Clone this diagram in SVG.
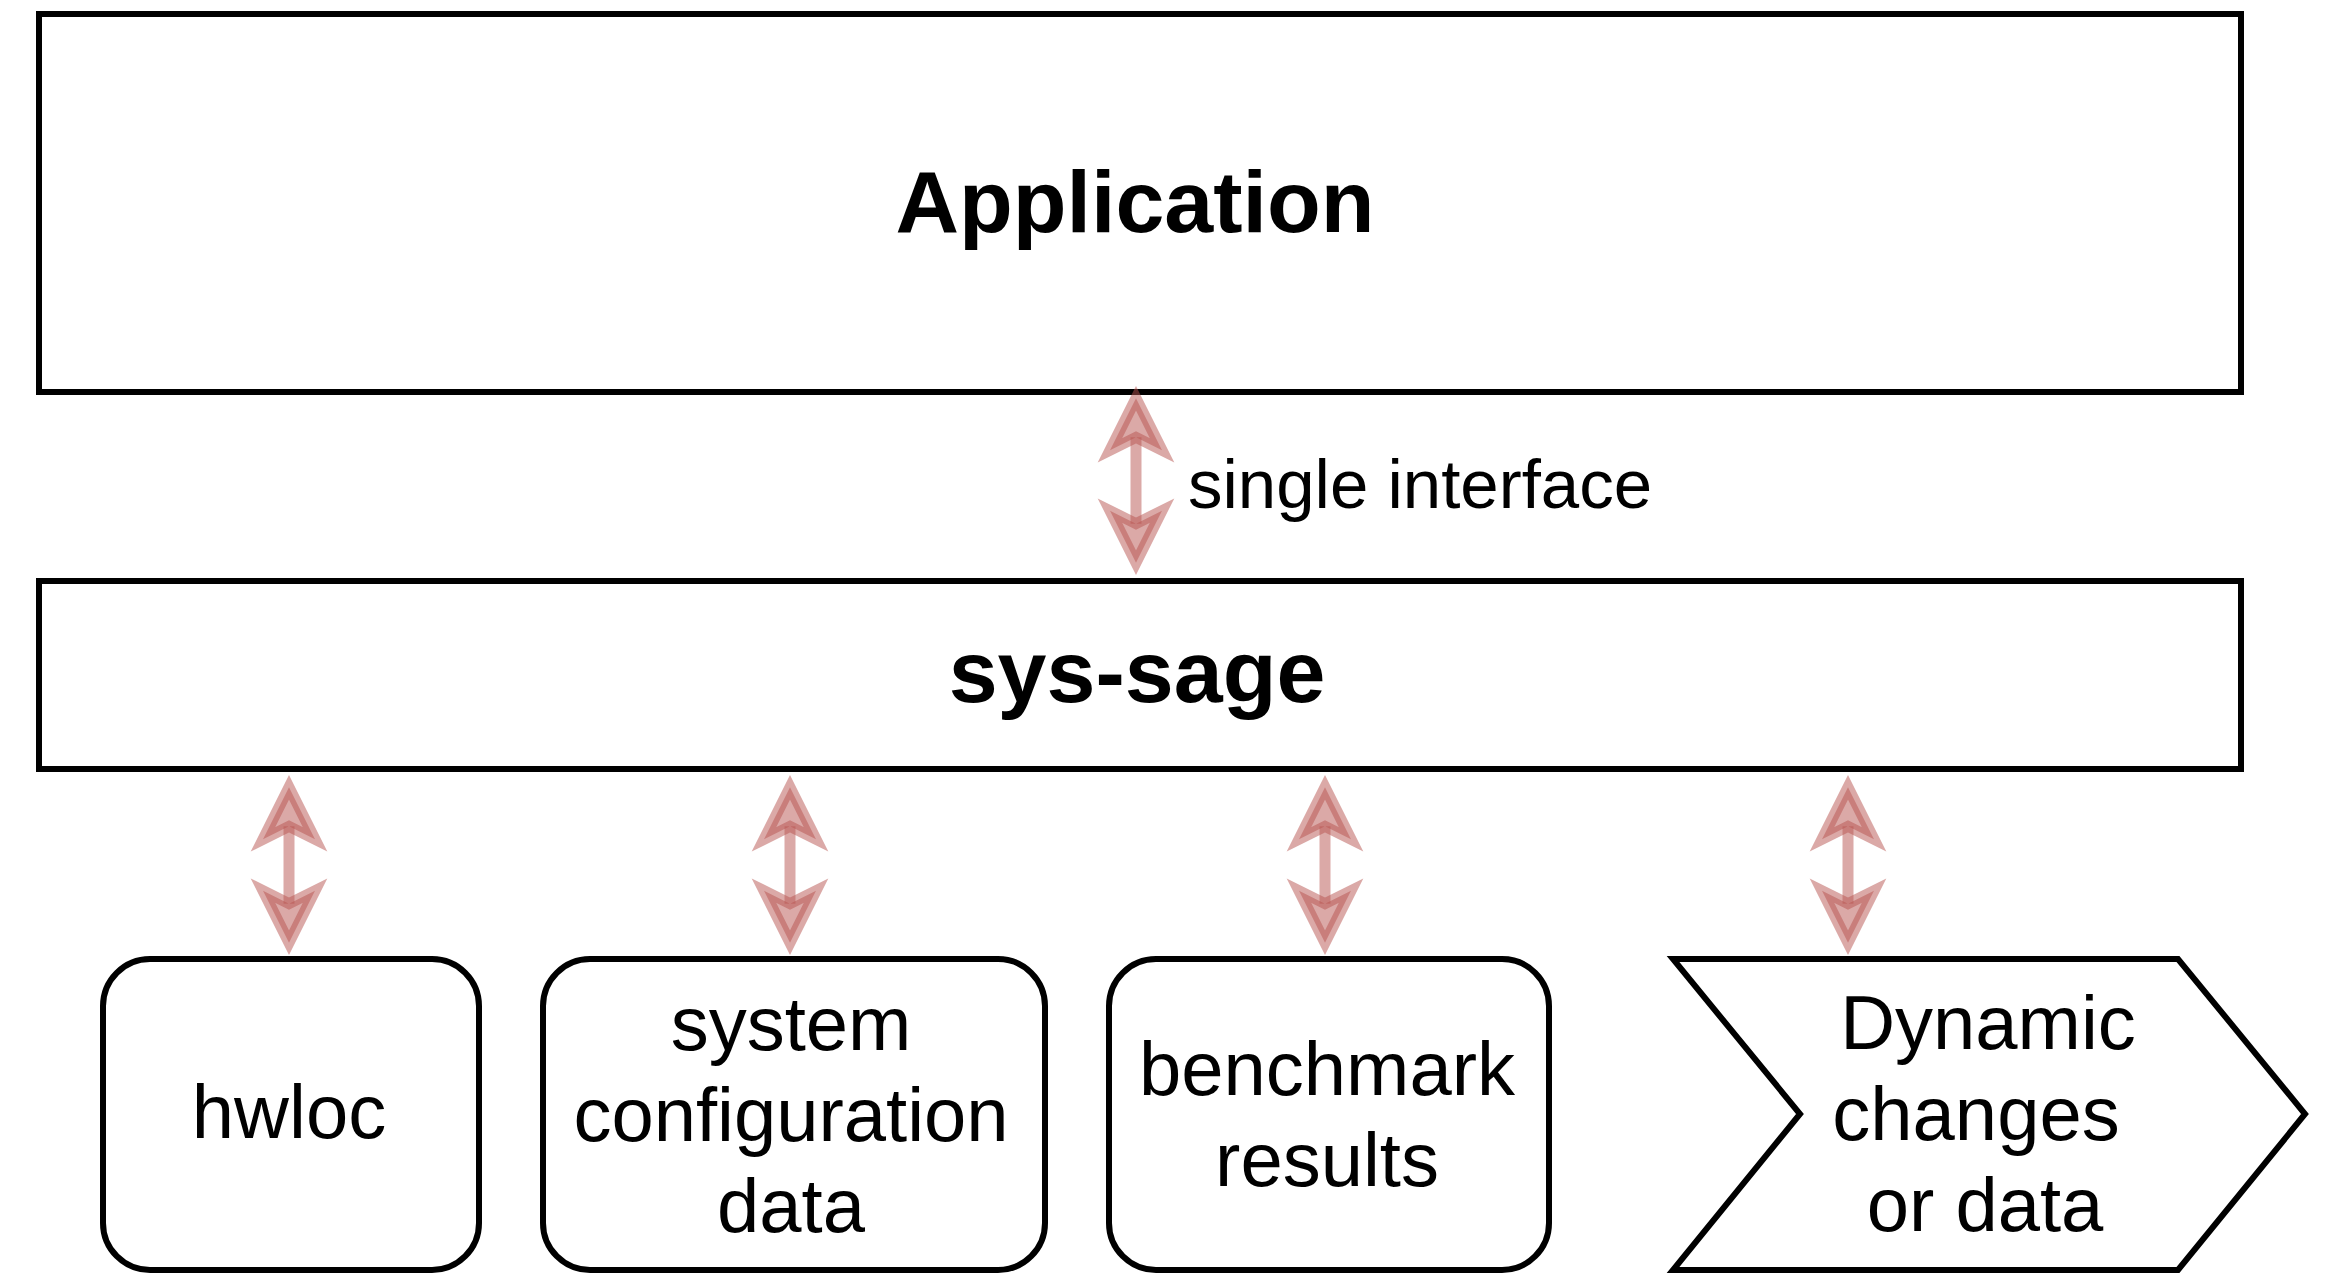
<svg xmlns="http://www.w3.org/2000/svg" xmlns:xlink="http://www.w3.org/1999/xlink" width="2336" height="1273" viewBox="0 0 2336 1273">
  <style>
    .box { fill: #ffffff; stroke: #000000; stroke-width: 6; }
    .t { font-family: "Liberation Sans", Arial, sans-serif; fill: #000000; text-anchor: middle; }
    .big { font-size: 88px; font-weight: bold; }
    .node { font-size: 76px; }
    .lbl { font-size: 69px; text-anchor: start; }
    .shaft { stroke: #b85450; stroke-opacity: 0.5; stroke-width: 11; fill: none; }
    .head { fill: #b85450; fill-opacity: 0.5; stroke: #b85450; stroke-opacity: 0.5; stroke-width: 11; stroke-linejoin: miter; stroke-miterlimit: 10; }
  </style>
  <defs>
    <path id="ah" class="head" d="M0,12.3 L-26,64.3 L0,51.3 L26,64.3 Z"/>
  </defs>
  <rect x="0" y="0" width="2336" height="1273" fill="#ffffff"/>

  <g id="application">
    <rect class="box" x="39" y="14" width="2202" height="378"/>
    <text class="t big" x="1135" y="232">Application</text>
  </g>

  <g id="sys-sage">
    <rect class="box" x="39" y="581" width="2202" height="188"/>
    <text class="t big" x="1137" y="702">sys-sage</text>
  </g>

  <g id="hwloc">
    <rect class="box" x="103" y="959" width="376" height="311" rx="47" ry="47"/>
    <text class="t node" x="289" y="1138">hwloc</text>
  </g>

  <g id="system-configuration-data">
    <rect class="box" x="543" y="959" width="502" height="311" rx="47" ry="47"/>
    <text class="t node" x="791" y="1050">system</text>
    <text class="t node" x="791" y="1141">configuration</text>
    <text class="t node" x="791" y="1232">data</text>
  </g>

  <g id="benchmark-results">
    <rect class="box" x="1109" y="959" width="440" height="311" rx="47" ry="47"/>
    <text class="t node" x="1327" y="1095">benchmark</text>
    <text class="t node" x="1327" y="1186">results</text>
  </g>

  <g id="dynamic-changes">
    <polygon class="box" points="1673,959 2178,959 2305,1114 2178,1270 1673,1270 1800,1114"/>
    <text class="t node" x="1988" y="1049">Dynamic</text>
    <text class="t node" x="1976" y="1140">changes</text>
    <text class="t node" x="1985" y="1231">or data</text>
  </g>

  <g id="connectors">
    <g id="edge-app-syssage">
      <line class="shaft" x1="1136" y1="437.3" x2="1136" y2="523.7"/>
      <use xlink:href="#ah" href="#ah" transform="translate(1136,386)"/>
      <use xlink:href="#ah" href="#ah" transform="translate(1136,575) scale(1,-1)"/>
      <text class="t lbl" x="1188" y="508">single interface</text>
    </g>
    <g id="edge-syssage-hwloc">
      <line class="shaft" x1="289" y1="826.3" x2="289" y2="903.7"/>
      <use xlink:href="#ah" href="#ah" transform="translate(289,775)"/>
      <use xlink:href="#ah" href="#ah" transform="translate(289,955) scale(1,-1)"/>
    </g>
    <g id="edge-syssage-sysconf">
      <line class="shaft" x1="790" y1="826.3" x2="790" y2="903.7"/>
      <use xlink:href="#ah" href="#ah" transform="translate(790,775)"/>
      <use xlink:href="#ah" href="#ah" transform="translate(790,955) scale(1,-1)"/>
    </g>
    <g id="edge-syssage-benchmark">
      <line class="shaft" x1="1325" y1="826.3" x2="1325" y2="903.7"/>
      <use xlink:href="#ah" href="#ah" transform="translate(1325,775)"/>
      <use xlink:href="#ah" href="#ah" transform="translate(1325,955) scale(1,-1)"/>
    </g>
    <g id="edge-syssage-dynamic">
      <line class="shaft" x1="1848" y1="826.3" x2="1848" y2="903.7"/>
      <use xlink:href="#ah" href="#ah" transform="translate(1848,775)"/>
      <use xlink:href="#ah" href="#ah" transform="translate(1848,955) scale(1,-1)"/>
    </g>
  </g>
</svg>
